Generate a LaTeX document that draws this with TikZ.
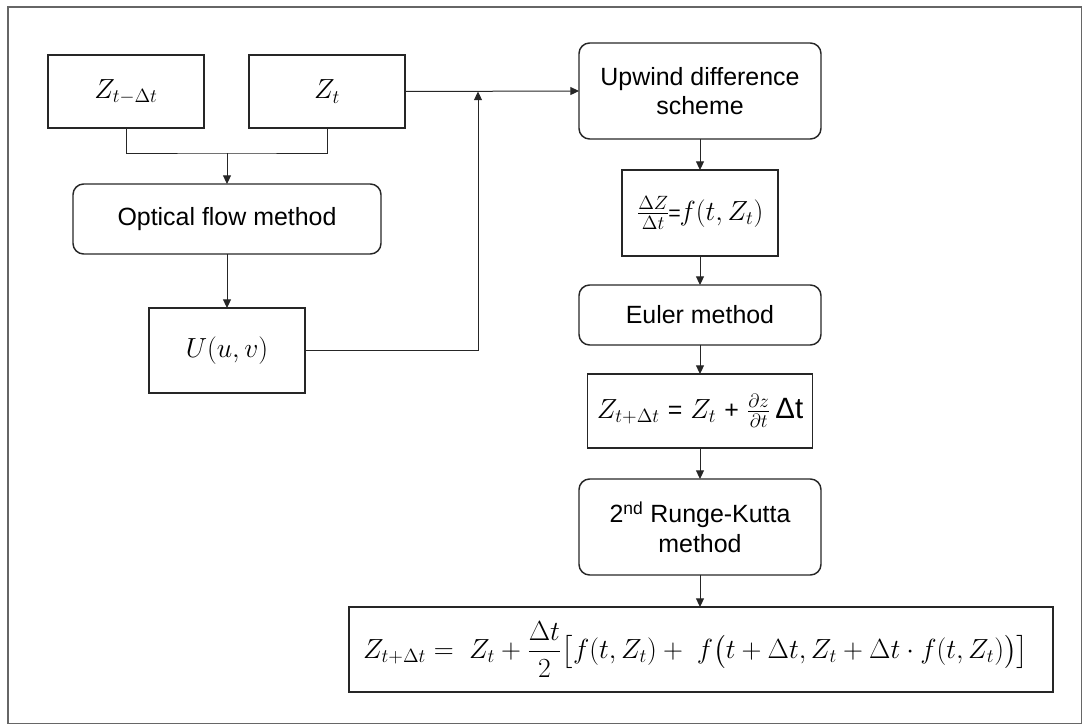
\documentclass[tikz,border=0pt]{standalone}
\usepackage{amsmath}
\usepackage{fontspec}
\setmainfont{Liberation Sans}
\usetikzlibrary{arrows.meta}
\begin{document}
\begin{tikzpicture}[x=0.75pt,y=-0.75pt,
  box/.style={draw=black!85, line width=1.1pt, inner sep=0pt, outer sep=0pt, align=center,
    font=\fontsize{18.7}{22}\selectfont},
  rbox/.style={box, rounded corners=8pt},
  mbox/.style={box, font=\fontsize{21.5}{25}\selectfont},
  conn/.style={draw=black!85, line width=0.75pt},
  arr/.style={conn, -{Triangle[length=6.5pt,width=6pt]}}]
\useasboundingbox (0,0) rectangle (1083,725);
\draw[black!60, line width=0.9pt] (8,7) rectangle (1081.5,723.5);

\node[mbox, minimum width=117pt, minimum height=54.75pt] (A) at (126,91.5) {$Z_{t-\Delta t}$};
\node[mbox, minimum width=117pt, minimum height=54.75pt] (B) at (327,91.5) {$Z_t$};
\node[rbox, minimum width=231pt, minimum height=52.5pt] (C) at (227,219) {Optical flow method};
\node[mbox, minimum width=117pt, minimum height=63.75pt] (D) at (227,350.5) {$U(u,v)$};

\node[rbox, minimum width=181.5pt, minimum height=72pt] (E) at (700,91) {Upwind difference\\scheme};
\node[mbox, minimum width=117pt, minimum height=64.5pt] (F) at (700,213) {$\frac{\Delta Z}{\Delta t}$\kern-1pt{\fontsize{16}{18}\selectfont=}\kern-1pt$f(t,Z_t)$};
\node[rbox, minimum width=181.5pt, minimum height=45pt] (G) at (700,315) {Euler method};
\node[mbox, minimum width=168.75pt, minimum height=55.5pt] (H) at (700,411) {$Z_{t+\Delta t}$ {\fontsize{18.7}{22}\selectfont=} $Z_t$ {\fontsize{18.7}{22}\selectfont+} $\frac{\partial z}{\partial t}$\,{\fontsize{22}{25}\selectfont Δt}};
\node[rbox, minimum width=181.5pt, minimum height=72pt] (I) at (700,527) {2\textsuperscript{nd} Runge-Kutta\\method};
\node[box, font=\fontsize{22}{26}\selectfont, minimum width=528pt, minimum height=63.75pt] (J) at (701,649.5) {$Z_{t+\Delta t} =\; Z_t + \dfrac{\Delta t}{2}\bigl[f(t,Z_t) +\; f\bigl(t+\Delta t, Z_t + \Delta t\cdot f(t,Z_t)\bigr)\bigr]$\kern8pt};

\coordinate (jn) at (227,153);
\coordinate (k) at (478,91.5);
\draw[conn] (A.south) |- (jn) -| (B.south);
\draw[arr] (jn) -- (C.north);
\draw[arr] (C.south) -- (D.north);
\draw[arr] (D.east) -| (k);
\draw[arr] (B.east) -- (E.west);
\draw[arr] (E.south) -- (F.north);
\draw[arr] (F.south) -- (G.north);
\draw[arr] (G.south) -- (H.north);
\draw[arr] (H.south) -- (I.north);
\draw[arr] (I.south) -- (I.south |- J.north);
\end{tikzpicture}
\end{document}
